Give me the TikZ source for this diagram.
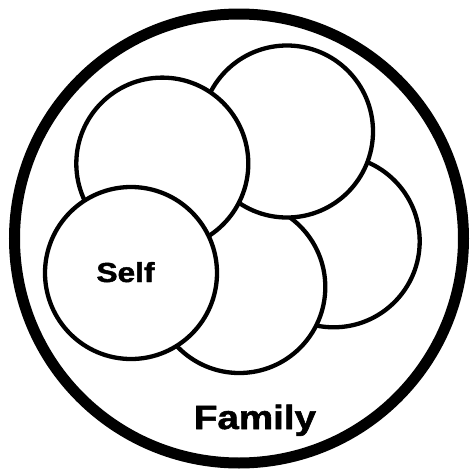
\documentclass[tikz,border=0pt]{standalone}
\usepackage{fontspec}
\setmainfont{Liberation Sans}
\newfontfamily\heavyfont{Liberation Sans}[BoldFeatures={FakeBold=1.6}]
\begin{document}
\begin{tikzpicture}[x=1pt,y=-1pt,
  ring/.style={circle, draw=black, line width=4.3pt, fill=white, minimum size=172pt, inner sep=0pt},
  bigring/.style={circle, draw=black, line width=11pt, fill=white, minimum size=449pt, inner sep=0pt},
  lbl/.style={anchor=base, inner sep=0pt}]
\useasboundingbox (0,0) rectangle (471,472);
\node[bigring] (family) at (239,238.5) {};
\node[ring] (c) at (333.7,241.3) {};
\node[ring] (d) at (239.3,287) {};
\node[ring] (b) at (287,131.5) {};
\node[ring] (a) at (162.3,163.6) {};
\node[ring] (self) at (131,273) {};
\node[lbl, font=\heavyfont\bfseries\fontsize{27.5}{30}\selectfont] (selflbl) at (125.5,282) {\scalebox{1.15}[1]{Self}};
\node[lbl, font=\heavyfont\bfseries\fontsize{33.5}{36}\selectfont] (familylbl) at (255,429) {\scalebox{1.15}[1]{Family}};
\end{tikzpicture}
\end{document}
